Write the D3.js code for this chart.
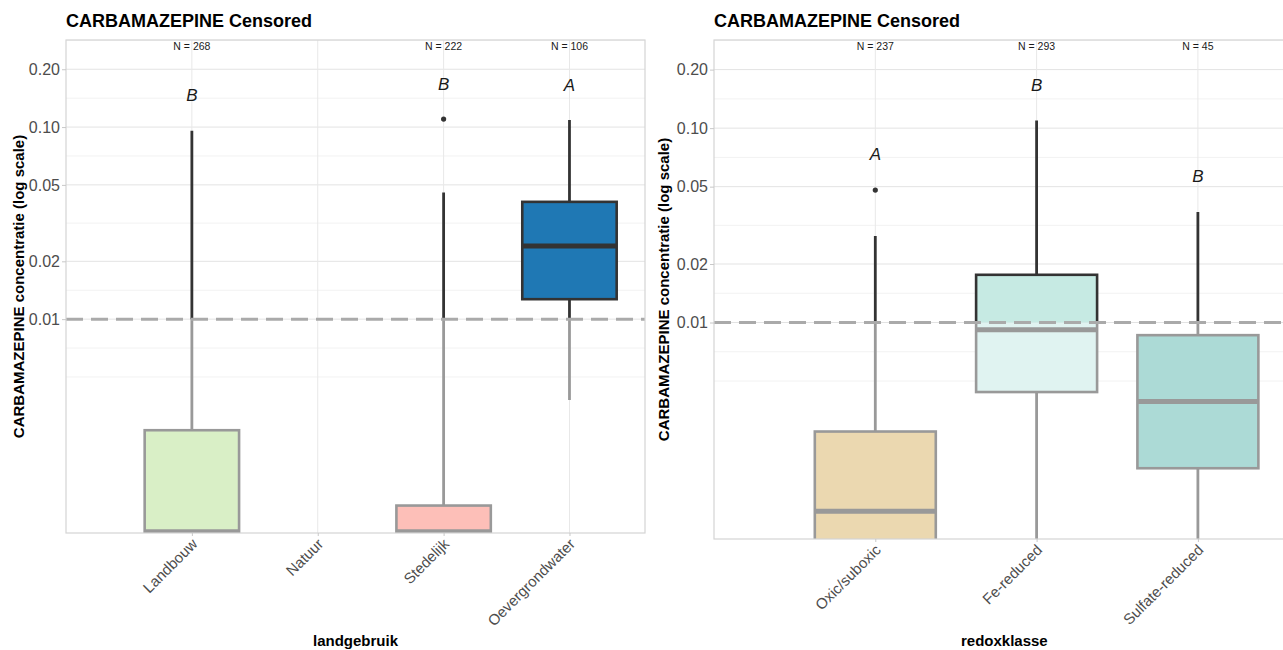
<!DOCTYPE html>
<html><head><meta charset="utf-8">
<script src="https://cdn.jsdelivr.net/npm/d3@7"></script>
<style>
body{margin:0;background:#fff;}
text{font-family:"Liberation Sans",Arial,Helvetica,sans-serif;}
</style>
</head><body><svg id="chart" width="1283" height="650"></svg>
<script>
// ---------- data ----------
const chartTitle = "CARBAMAZEPINE Censored";
const yAxisTitle = "CARBAMAZEPINE concentratie (log scale)";
const yTickValues = [0.01, 0.02, 0.05, 0.10, 0.20];
const yTickLabels = ["0.01", "0.02", "0.05", "0.10", "0.20"];
const yDomain = [0.00077, 0.284];
const detectionLimit = 0.01;

const landTitle = "landgebruik";
const landCategories = ["Landbouw", "Natuur", "Stedelijk", "Oevergrondwater"];
const landN = [268, null, 222, 106];
const landLetters = ["B", null, "B", "A"];
const landWhiskerLow = [0.000782, null, 0.000782, 0.00379];
const landQ1 = [0.000782, null, 0.000782, 0.0127];
const landMedian = [0.000782, null, 0.000782, 0.0240];
const landQ3 = [0.00264, null, 0.00107, 0.0408];
const landWhiskerHigh = [0.0957, null, 0.0457, 0.1088];
const landOutliers = [[], [], [0.110], []];

const redoxTitle = "redoxklasse";
const redoxCategories = ["Oxic/suboxic", "Fe-reduced", "Sulfate-reduced"];
const redoxN = [237, 293, 45];
const redoxLetters = ["A", "B", "B"];
const redoxWhiskerLow = [0.0004, 0.0005, 0.0005];
const redoxQ1 = [0.0006, 0.00439, 0.00178];
const redoxMedian = [0.00107, 0.00917, 0.00393];
const redoxQ3 = [0.00275, 0.0176, 0.00861];
const redoxWhiskerHigh = [0.0279, 0.1094, 0.0370];
const redoxOutliers = [[0.048], [], []];

// ---------- styles ----------
const landFillAbove = ["#b2df8a", "#cccccc", "#fb9a99", "#1f78b4"];
const landFillBelow = ["#d9efc6", "#e6e6e6", "#fdbfb8", "#8fbbd9"];
const redoxFillAbove = ["#e0c48e", "#c6eae3", "#8fcfca"];
const redoxFillBelow = ["#ebd8b0", "#e0f3f1", "#acdad6"];
const darkStroke = "#333333";
const lightStroke = "#999999";

const svg = d3.select("#chart");
svg.append("rect").attr("width", 1283).attr("height", 650).attr("fill", "#fff");

function drawPanel(cfg) {
  const {id, x0, x1, y0, y1, unit, cats} = cfg;
  const g = svg.append("g");
  const y = d3.scaleLog().domain(yDomain).range([y1, y0]);
  const x = d3.scalePoint().domain(cats).range([x0 + unit, x0 + unit * cats.length]);
  const bw = unit * 0.75;
  const yLim = y(detectionLimit);

  const defs = svg.append("defs");
  defs.append("clipPath").attr("id", id + "-above").append("rect")
    .attr("x", x0).attr("y", y0).attr("width", x1 - x0).attr("height", yLim - y0);
  defs.append("clipPath").attr("id", id + "-below").append("rect")
    .attr("x", x0).attr("y", yLim).attr("width", x1 - x0).attr("height", y1 - yLim);

  // minor grid (midpoints in log space incl. extended breaks)
  const lt = yTickValues.map(v => Math.log10(v));
  const ext = [lt[0] - (lt[1] - lt[0]), ...lt, lt[lt.length - 1] + (lt[lt.length - 1] - lt[lt.length - 2])];
  const minor = [];
  for (let i = 0; i < ext.length - 1; i++) minor.push((ext[i] + ext[i + 1]) / 2);
  minor.push(ext[0]);
  const lo = Math.log10(yDomain[0]), hi = Math.log10(yDomain[1]);
  g.append("g").selectAll("line").data(minor.filter(m => m > lo && m < hi)).join("line")
    .attr("x1", x0).attr("x2", x1)
    .attr("y1", d => y(Math.pow(10, d))).attr("y2", d => y(Math.pow(10, d)))
    .attr("stroke", "#f2f2f2").attr("stroke-width", 1);
  g.append("g").selectAll("line").data(yTickValues).join("line")
    .attr("x1", x0).attr("x2", x1).attr("y1", d => y(d)).attr("y2", d => y(d))
    .attr("stroke", "#e3e3e3").attr("stroke-width", 1);
  g.append("g").selectAll("line").data(cats).join("line")
    .attr("x1", d => x(d)).attr("x2", d => x(d)).attr("y1", y0).attr("y2", y1)
    .attr("stroke", "#e8e8e8").attr("stroke-width", 1);

  // boxes: two layers (below limit: light, above: dark)
  const rows = cats.map((c, i) => ({c, i, lo: cfg.wl[i], q1: cfg.q1[i], med: cfg.med[i], q3: cfg.q3[i], hi: cfg.wh[i], out: cfg.out[i]}))
    .filter(r => r.q1 != null);
  [["below", lightStroke, cfg.fillBelow], ["above", darkStroke, cfg.fillAbove]].forEach(([part, stroke, fills]) => {
    const L = g.append("g").attr("clip-path", `url(#${id}-${part})`);
    rows.forEach(r => {
      const cx = x(r.c);
      L.append("line").attr("x1", cx).attr("x2", cx).attr("y1", y(r.hi)).attr("y2", y(r.q3))
        .attr("stroke", stroke).attr("stroke-width", 2.8);
      L.append("line").attr("x1", cx).attr("x2", cx).attr("y1", y(r.q1)).attr("y2", y(r.lo))
        .attr("stroke", stroke).attr("stroke-width", 2.8);
      L.append("rect").attr("x", cx - bw / 2).attr("width", bw)
        .attr("y", y(r.q3)).attr("height", y(r.q1) - y(r.q3))
        .attr("fill", fills[r.i]).attr("stroke", stroke).attr("stroke-width", 2.6);
      L.append("line").attr("x1", cx - bw / 2).attr("x2", cx + bw / 2)
        .attr("y1", y(r.med)).attr("y2", y(r.med))
        .attr("stroke", stroke).attr("stroke-width", 5);
      r.out.forEach(o => L.append("circle").attr("cx", cx).attr("cy", y(o)).attr("r", 2.6).attr("fill", stroke));
    });
  });

  // detection limit
  g.append("line").attr("x1", x0).attr("x2", x1).attr("y1", yLim).attr("y2", yLim)
    .attr("stroke", "#aaaaaa").attr("stroke-width", 3).attr("stroke-dasharray", "17,8");

  // panel border
  g.append("rect").attr("x", x0).attr("y", y0).attr("width", x1 - x0).attr("height", y1 - y0)
    .attr("fill", "none").attr("stroke", "#d4d4d4").attr("stroke-width", 1.2);

  // N labels and letters
  cats.forEach((c, i) => {
    if (cfg.n[i] != null) {
      g.append("text").attr("x", x(c)).attr("y", 47).attr("text-anchor", "middle")
        .attr("dominant-baseline", "middle").attr("font-size", 10.5).attr("fill", "#1a1a1a")
        .text("N = " + cfg.n[i]);
    }
    if (cfg.letters[i]) {
      const top = d3.max([cfg.wh[i], ...cfg.out[i]]);
      g.append("text").attr("x", x(c)).attr("y", y(top * 1.5)).attr("text-anchor", "middle")
        .attr("dominant-baseline", "middle").attr("font-size", 17).attr("font-style", "italic")
        .attr("fill", "#1a1a1a").text(cfg.letters[i]);
    }
  });

  // y axis
  const ya = g.append("g").attr("transform", `translate(${x0},0)`)
    .call(d3.axisLeft(y).tickValues(yTickValues).tickFormat((d, i) => yTickLabels[i]).tickSize(4).tickPadding(2));
  ya.select(".domain").remove();
  ya.selectAll("line").attr("stroke", "#c8c8c8");
  ya.selectAll("text").attr("font-size", 16).attr("fill", "#4d4d4d").attr("font-family", null);

  // x axis
  const xa = g.append("g").attr("transform", `translate(0,${y1})`)
    .call(d3.axisBottom(x).tickSize(3).tickPadding(4));
  xa.select(".domain").remove();
  xa.selectAll("line").attr("stroke", "#c8c8c8");
  xa.selectAll("text").attr("font-size", 15).attr("fill", "#4d4d4d").attr("font-family", null)
    .attr("text-anchor", "end").attr("dy", null)
    .attr("transform", "translate(1,7) rotate(-45)");

  // titles
  svg.append("text").attr("x", x0).attr("y", 27).attr("font-size", 18).attr("font-weight", "bold")
    .attr("fill", "#000").text(chartTitle);
  svg.append("text").attr("x", (x0 + x1) / 2).attr("y", 646).attr("text-anchor", "middle")
    .attr("font-size", 15).attr("font-weight", "bold").attr("fill", "#000").text(cfg.xTitle);
  svg.append("text").attr("transform", `translate(${cfg.yTitleX},${(y0 + y1) / 2}) rotate(-90)`)
    .attr("text-anchor", "middle").attr("dominant-baseline", "middle")
    .attr("font-size", 15).attr("font-weight", "bold").attr("fill", "#000").text(yAxisTitle);
}

drawPanel({
  id: "land", x0: 66, x1: 645, y0: 40, y1: 533, unit: 579 / 4.6, cats: landCategories,
  n: landN, letters: landLetters, wl: landWhiskerLow, q1: landQ1, med: landMedian, q3: landQ3,
  wh: landWhiskerHigh, out: landOutliers, fillAbove: landFillAbove, fillBelow: landFillBelow,
  xTitle: landTitle, yTitleX: 20
});
drawPanel({
  id: "redox", x0: 714, x1: 714 + 161.3 * 3.6, y0: 40, y1: 539, unit: 161.3, cats: redoxCategories,
  n: redoxN, letters: redoxLetters, wl: redoxWhiskerLow, q1: redoxQ1, med: redoxMedian, q3: redoxQ3,
  wh: redoxWhiskerHigh, out: redoxOutliers, fillAbove: redoxFillAbove, fillBelow: redoxFillBelow,
  xTitle: redoxTitle, yTitleX: 665
});
</script>
</body></html>
